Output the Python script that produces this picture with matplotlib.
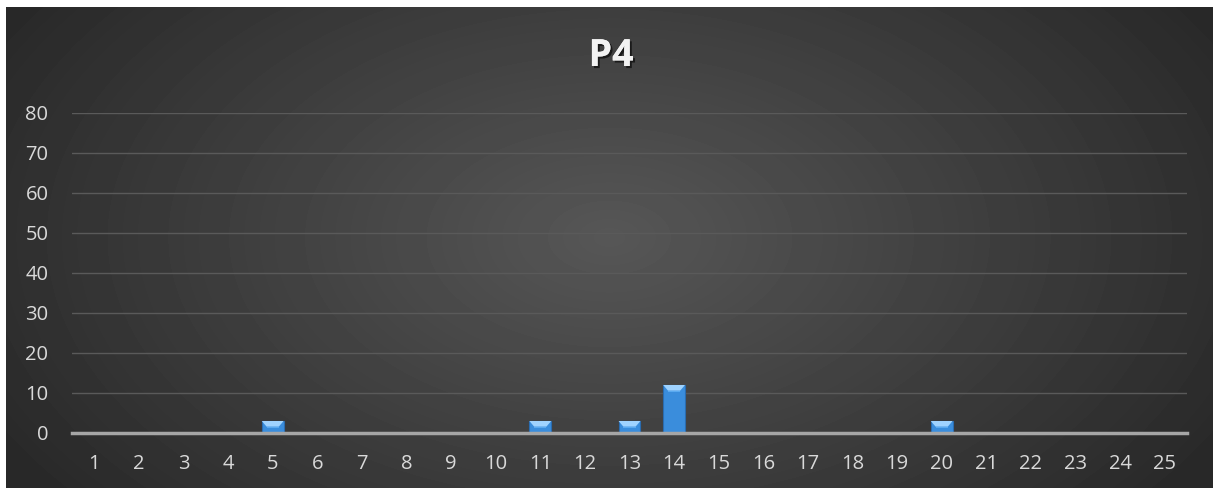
import matplotlib.pyplot as plt
import matplotlib.patheffects as pe
import numpy as np

categories = [str(i) for i in range(1, 26)]
values = [0, 0, 0, 0, 3, 0, 0, 0, 0, 0, 3, 0, 3, 12, 0, 0, 0, 0, 0, 3, 0, 0, 0, 0, 0]
y_ticks = [0, 10, 20, 30, 40, 50, 60, 70, 80]
title = "P4"

W, H = 1213, 488
fig = plt.figure(figsize=(W / 100, H / 100), dpi=100)
fig.patch.set_facecolor("white")

# dark radial background
bg = fig.add_axes([6 / W, 0, 1 - 6 / W, (H - 7) / H])
yy, xx = np.mgrid[0:481, 0:1207]
cx, cy = 603, 230
r = np.sqrt(((xx - cx) / 700.0) ** 2 + ((yy - cy) / 420.0) ** 2)
shade = np.clip(0.34 - 0.18 * r, 0.16, 0.345)
bg.imshow(shade, cmap="gray", vmin=0, vmax=1, aspect="auto",
          extent=[0, 1, 0, 1], interpolation="bilinear")
bg.axis("off")

ax = fig.add_axes([72 / W, (H - 433) / H, (1187 - 72) / W, 320 / H])
ax.set_facecolor("none")
x = np.arange(1, len(categories) + 1)
bw = 0.49
bars = ax.bar(x, values, width=bw, color="#3a8ddc", edgecolor="#2a6cb0",
              linewidth=0.8, zorder=3)

# lighter bevel on top of each bar
for b, v in zip(bars, values):
    if v <= 0:
        continue
    x0 = b.get_x()
    x1 = x0 + b.get_width()
    bev = min(1.4, v / 2)
    inset = b.get_width() * 0.22
    ax.fill([x0, x1, x1 - inset, x0 + inset], [v, v, v - bev, v - bev],
            color="#9fd3ff", zorder=4, linewidth=0)
    ax.fill([x0 + inset, x1 - inset, x1 - inset, x0 + inset],
            [v - bev, v - bev, v - bev - 0.3, v - bev - 0.3],
            color="#5aaaf0", zorder=4, linewidth=0)

ax.set_xlim(0.5, len(categories) + 0.5)
ax.set_ylim(0, 80)
ax.set_yticks(y_ticks)
ax.set_xticks(x)
ax.set_xticklabels(categories)
ax.grid(axis="y", color="#5a5a5a", linewidth=1, zorder=0)
ax.set_axisbelow(True)
for s in ["top", "right", "left"]:
    ax.spines[s].set_visible(False)
ax.spines["bottom"].set_color("#a6a6a6")
ax.spines["bottom"].set_linewidth(2.5)
ax.spines["bottom"].set_zorder(5)
ax.tick_params(length=0, labelcolor="#d9d9d9", labelsize=14.5)
ax.tick_params(axis="x", pad=15)
ax.tick_params(axis="y", pad=17)
for lab in ax.get_xticklabels() + ax.get_yticklabels():
    lab.set_fontfamily("Open Sans")

fig.text(611 / W, 1 - 56 / H, title, ha="center", va="center", fontsize=27,
         fontweight="bold", color="#f2f2f2", family="Open Sans",
         path_effects=[pe.withSimplePatchShadow(offset=(1.5, -1.5),
                                                shadow_rgbFace="black", alpha=0.6),
                       pe.Normal()])

fig.savefig("out.png", dpi=100, facecolor=fig.get_facecolor())
